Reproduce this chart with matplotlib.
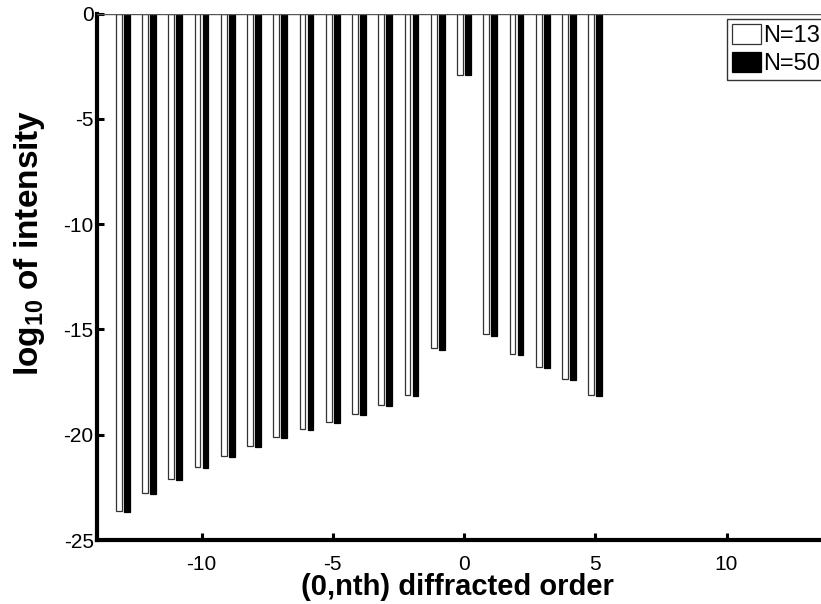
import numpy as np
import matplotlib
matplotlib.use('Agg')
import matplotlib.pyplot as plt

plt.rcParams['font.family'] = ['Liberation Sans', 'DejaVu Sans']
plt.rcParams['mathtext.fontset'] = 'custom'
plt.rcParams['mathtext.rm'] = 'Liberation Sans:bold'
plt.rcParams['mathtext.bf'] = 'Liberation Sans:bold'
plt.rcParams['mathtext.default'] = 'rm'
plt.rcParams['axes.unicode_minus'] = False

# diffracted orders and log10 intensities
orders = list(range(-13, 6))
log_i_n13 = [-23.62, -22.79, -22.10, -21.53, -21.03, -20.56, -20.13, -19.74, -19.38,
             -19.02, -18.60, -18.12, -15.90, -2.92, -15.23, -16.17, -16.79, -17.36, -18.13]
log_i_n50 = [-23.67, -22.82, -22.13, -21.56, -21.06, -20.58, -20.17, -19.79, -19.43,
             -19.06, -18.65, -18.18, -15.96, -2.92, -15.30, -16.23, -16.83, -17.39, -18.18]
series_labels = ['N=13', 'N=50']
x_ticks = [-10, -5, 0, 5, 10]
y_ticks = [0, -5, -10, -15, -20, -25]

fig = plt.figure(figsize=(8.21, 6.04), dpi=100)
# axes runs past the right edge of the figure, as in the cropped original
ax = fig.add_axes([96.5 / 821, 64 / 604, 735 / 821, 526.5 / 604])

x = np.array(orders, dtype=float)
w = 0.22
ax.bar(x - 0.15, log_i_n13, width=w, color='white', edgecolor='#333333', lw=0.9,
       label=series_labels[0], zorder=2)
ax.bar(x + 0.15, log_i_n50, width=w, color='black', edgecolor='black', lw=0.9,
       label=series_labels[1], zorder=2)
ax.axhline(0, color='#555555', lw=1.0, zorder=3)

ax.set_xlim(-14, 14)
ax.set_ylim(-25, 0)
ax.set_xticks(x_ticks)
ax.set_yticks(y_ticks)
ax.spines['top'].set_visible(False)
ax.spines['right'].set_visible(False)
ax.spines['left'].set_linewidth(3)
ax.spines['bottom'].set_linewidth(3)
ax.tick_params(axis='both', direction='in', length=5, width=2.2, labelsize=15)
ax.tick_params(axis='x', pad=11)
ax.tick_params(axis='y', pad=2)

ax.set_xlabel('(0,nth) diffracted order', fontsize=21, fontweight='bold', labelpad=0)
ax.xaxis.set_label_coords(0.4905, -0.062)
ax.xaxis.label.set_va('top')
ax.set_ylabel('log$_{10}$ of intensity', fontsize=24, fontweight='bold')
ax.yaxis.set_label_coords(-0.068, 0.564)

leg = ax.legend(loc='upper left', bbox_to_anchor=(727 / 821, 1 - 19 / 604),
                bbox_transform=fig.transFigure, fontsize=17, frameon=True,
                fancybox=False, edgecolor='black', borderpad=0.2,
                handlelength=1.25, handleheight=0.95, handletextpad=0.1,
                labelspacing=0.2, borderaxespad=0)
leg.get_frame().set_linewidth(1.0)

fig.savefig('out.png', dpi=100)
